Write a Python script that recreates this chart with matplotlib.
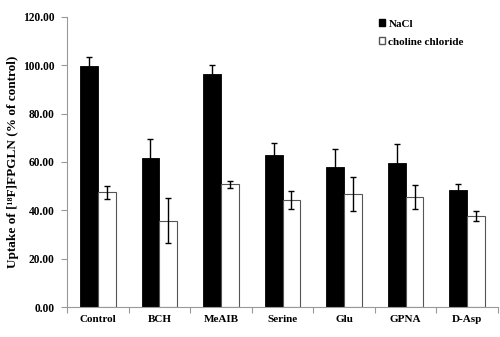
import matplotlib
matplotlib.use("Agg")
import matplotlib.pyplot as plt
import numpy as np
from matplotlib.patches import Patch

categories = ["Control", "BCH", "MeAIB", "Serine", "Glu", "GPNA", "D-Asp"]
nacl = [99.8, 61.8, 96.3, 63.0, 57.7, 59.5, 48.4]
nacl_err = [3.7, 7.6, 3.6, 5.0, 7.8, 7.8, 2.4]
choline = [47.4, 35.7, 50.8, 44.3, 46.8, 45.6, 37.6]
choline_err = [2.8, 9.3, 1.4, 3.7, 7.0, 5.0, 2.0]
yticks = [0, 20, 40, 60, 80, 100, 120]

plt.rcParams['font.family'] = ['Liberation Serif', 'DejaVu Serif']
plt.rcParams['font.weight'] = 'bold'

fig = plt.figure(figsize=(5, 3.37), dpi=100)
ax = fig.add_axes([0.134, 0.089, 0.862, 0.861])

x = np.arange(len(categories)) + 0.5
w = 0.29
ax.bar(x - w/2, nacl, w, color='black', edgecolor='black', linewidth=0.6,
       yerr=nacl_err, error_kw=dict(ecolor='black', elinewidth=1, capsize=2.5, capthick=1))
ax.bar(x + w/2, choline, w, color='white', edgecolor='#555555', linewidth=0.8,
       yerr=choline_err, error_kw=dict(ecolor='black', elinewidth=1, capsize=2.5, capthick=1))

ax.set_xlim(0, len(categories))
ax.set_ylim(0, 120)
ax.set_yticks(yticks)
ax.set_yticklabels([f"{v:.2f}" for v in yticks], fontsize=8.3, fontweight='bold')
ax.set_xticks(np.arange(len(categories) + 1))
ax.set_xticklabels([])
ax.set_xticks(x, minor=True)
ax.set_xticklabels(categories, minor=True, fontsize=8, fontweight='bold')
ax.tick_params(axis='x', which='major', length=4, color='#999999', direction='out')
ax.tick_params(axis='x', which='minor', length=0, pad=6)
ax.tick_params(axis='y', length=4, color='#999999', direction='out', pad=5)
for s in ['top', 'right']:
    ax.spines[s].set_visible(False)
for s in ['left', 'bottom']:
    ax.spines[s].set_color('#999999')
    ax.spines[s].set_linewidth(0.8)

ax.set_ylabel("Uptake of [\u00b9\u2078F]FPGLN (% of control)", fontsize=9.5,
              fontweight='bold')
ax.yaxis.set_label_coords(-0.112, 0.5)

handles = [Patch(facecolor='black', edgecolor='black', label='NaCl'),
           Patch(facecolor='white', edgecolor='#555555', label='choline chloride')]
fig.legend(handles=handles, loc='upper left', bbox_to_anchor=(0.737, 0.972),
           frameon=False, prop={'size': 8, 'weight': 'bold'},
           handlelength=0.6, handleheight=0.6, handletextpad=0.3, labelspacing=0.75)

fig.savefig("out.png", dpi=100)
